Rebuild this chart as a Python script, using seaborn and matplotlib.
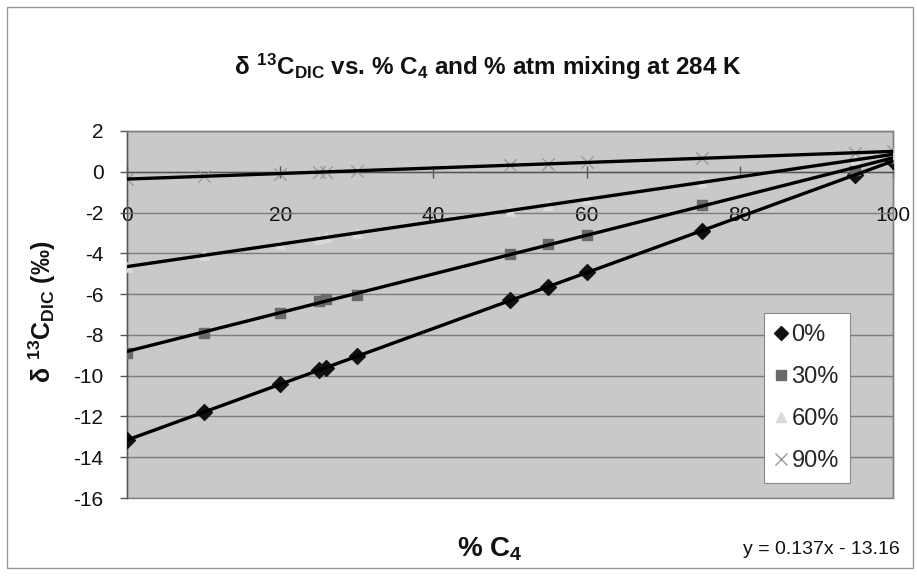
import numpy as np
import pandas as pd
import matplotlib
matplotlib.use("Agg")
import matplotlib.pyplot as plt
import seaborn as sns
from matplotlib.lines import Line2D
from matplotlib.patches import Rectangle

# ---- data ----
c4_pct = [0, 10, 20, 25, 26, 30, 50, 55, 60, 75, 95, 100]
d13c_atm0 = [-13.16, -11.80, -10.42, -9.74, -9.60, -9.05, -6.31, -5.63, -4.94, -2.90, -0.18, 0.54]
d13c_atm30 = [-8.88, -7.90, -6.93, -6.35, -6.25, -6.02, -4.05, -3.55, -3.10, -1.65, 0.10, 0.70]
d13c_atm60 = [-4.65, -4.10, -3.55, -3.28, -3.22, -3.00, -1.90, -1.62, -1.35, -0.52, 0.58, 0.85]
d13c_atm90 = [-0.36, -0.22, -0.09, -0.02, 0.00, 0.05, 0.32, 0.39, 0.46, 0.66, 0.93, 1.00]
series_labels = ["0%", "30%", "60%", "90%"]
x_ticks = [0, 20, 40, 60, 80, 100]
y_ticks = [2, 0, -2, -4, -6, -8, -10, -12, -14, -16]
equation_text = "y = 0.137x - 13.16"

df = pd.DataFrame({
    "c4": c4_pct * 4,
    "d13c": d13c_atm0 + d13c_atm30 + d13c_atm60 + d13c_atm90,
    "atm": sum([[lab] * len(c4_pct) for lab in series_labels], []),
})

sns.set_theme(style="white")
plt.rcParams["font.family"] = ["Liberation Sans", "DejaVu Sans"]
plt.rcParams["mathtext.default"] = "regular"
plt.rcParams["axes.unicode_minus"] = False

fig = plt.figure(figsize=(9.17, 5.76), dpi=100)
fig.patch.set_facecolor("white")
ax = fig.add_axes([127 / 917, 78 / 576, 766 / 917, 367 / 576])
ax.set_facecolor("#c9c9c9")

markers = {"0%": "D", "30%": "s", "60%": "^", "90%": "x"}
mcolors = {"0%": "#111111", "30%": "#6a6a6a", "60%": "#dadada", "90%": "#9a9a9a"}
msizes = {"0%": 65, "30%": 60, "60%": 45, "90%": 80}

for lab in series_labels:
    sub = df[df["atm"] == lab]
    sns.scatterplot(data=sub, x="c4", y="d13c", marker=markers[lab],
                    color=mcolors[lab], s=msizes[lab],
                    edgecolor=mcolors[lab] if markers[lab] != "x" else None,
                    linewidth=1.0, ax=ax, zorder=3, legend=False)
    sns.regplot(data=sub, x="c4", y="d13c", scatter=False, ci=None,
                truncate=True, color="black",
                line_kws=dict(lw=2.4, zorder=4), ax=ax)

ax.set_xlim(0, 100)
ax.set_ylim(-16, 2)
ax.set_xticks(x_ticks)
ax.set_yticks(y_ticks)
ax.yaxis.grid(True, color="#7c7c7c", lw=1.0)
ax.xaxis.grid(False)
ax.set_axisbelow(True)
ax.set_xlabel("")
ax.set_ylabel("")

for s in ["top", "right", "left"]:
    ax.spines[s].set_visible(True)
    ax.spines[s].set_color("#808080")
    ax.spines[s].set_linewidth(1.0)
ax.spines["left"].set_color("#555555")
ax.spines["bottom"].set_position(("data", 0))
ax.spines["bottom"].set_color("#555555")
ax.spines["bottom"].set_linewidth(1.0)
# plot-area border
ax.add_patch(Rectangle((0, 0), 1, 1, transform=ax.transAxes, fill=False,
                       edgecolor="#808080", lw=1.0, zorder=0.5, clip_on=False))

ax.tick_params(axis="x", direction="inout", length=9, width=1, color="#555555",
               labelsize=15, pad=20, labelcolor="#111111", bottom=True)
ax.tick_params(axis="y", direction="out", length=5, width=1, color="#555555",
               labelsize=15, pad=12, labelcolor="#111111", left=True)

# legend
handles = [
    Line2D([], [], ls="none", marker="D", color=mcolors["0%"], markersize=7),
    Line2D([], [], ls="none", marker="s", color=mcolors["30%"], markersize=7),
    Line2D([], [], ls="none", marker="^", color=mcolors["60%"], markersize=7),
    Line2D([], [], ls="none", marker="x", color=mcolors["90%"], markersize=9, mew=1),
]
leg = ax.legend(handles, series_labels, loc="lower left",
                bbox_to_anchor=(0.832, 0.041), fontsize=17, frameon=True,
                fancybox=False, edgecolor="#8a8a8a", facecolor="white",
                framealpha=1, labelspacing=0.85, handlelength=0.5,
                handletextpad=0.2, borderpad=0.45, borderaxespad=0)
leg.get_frame().set_linewidth(0.8)
leg._legend_box.align = "left"

# title and labels
fig.text(488 / 917, 1 - 67 / 576,
         r"$\delta\ ^{13}C_{DIC}$ vs. % C$_4$ and % atm mixing at 284 K",
         ha="center", va="center", fontsize=17.5, fontweight="bold", color="#111111")
fig.text(42 / 917, 1 - 312 / 576, r"$\delta\ ^{13}C_{DIC}$ (‰)",
         rotation=90, ha="center", va="center", fontsize=18,
         fontweight="bold", color="#111111")
fig.text(490 / 917, 1 - 549 / 576, r"% C$_4$", ha="center", va="center",
         fontsize=20, fontweight="bold", color="#111111")
fig.text(900 / 917, 1 - 549 / 576, equation_text, ha="right", va="center",
         fontsize=14, color="#111111")

# chart border
fig.add_artist(Rectangle((7 / 917, 1 - 568 / 576), 906 / 917, 561 / 576,
                         transform=fig.transFigure, fill=False,
                         edgecolor="#9a9a9a", lw=1.0))

fig.savefig("out.png", dpi=100, facecolor="white")
